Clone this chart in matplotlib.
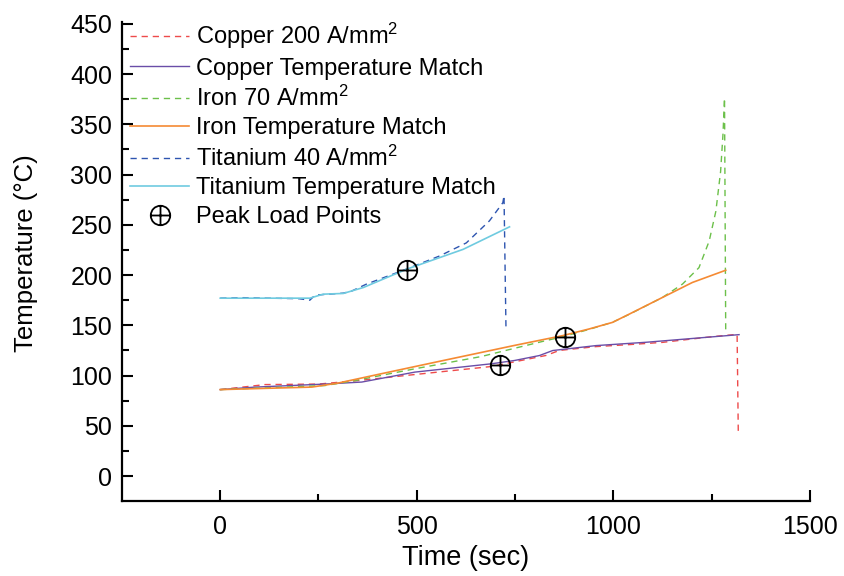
import numpy as np
import matplotlib
matplotlib.use('Agg')
import matplotlib.pyplot as plt
from matplotlib.path import Path

plt.rcParams['font.family'] = 'Liberation Sans'
plt.rcParams['mathtext.fontset'] = 'custom'
plt.rcParams['mathtext.rm'] = 'Liberation Sans'
plt.rcParams['mathtext.it'] = 'Liberation Sans:italic'

# Copper, 200 A/mm2 and its matched temperature curve
t_cu = [0, 114, 250, 351, 495, 690, 829, 863, 956, 1041, 1125, 1252, 1315, 1318]
T_cu = [86, 91, 91.5, 95, 101, 109, 120, 125, 128.8, 130.8, 133, 138.7, 141, 44]
t_cu_m = [0, 89, 266, 360, 495, 690, 749, 812, 846, 956, 1083, 1320]
T_cu_m = [86, 88.5, 91.5, 93.5, 103.4, 111.7, 115, 119.9, 124.9, 129.8, 133.1, 140.7]

# Iron, 70 A/mm2
t_fe = [0, 266, 343, 495, 664, 732, 829, 871, 939, 998, 1041, 1125, 1176, 1218,
        1244, 1261, 1273, 1279, 1283, 1286]
T_fe = [86, 90, 95, 106.7, 118.9, 125.5, 134.8, 138.6, 146, 153, 161, 177.7, 191,
        207.4, 233.9, 263.6, 303, 339.6, 376, 146]
t_fe_m = [0, 233, 300, 410, 580, 749, 871, 939, 998, 1041, 1125, 1201, 1286]
T_fe_m = [86, 88.5, 92.5, 101.8, 116, 130, 139.7, 146.4, 152.9, 161.2, 177.7, 192.6, 204.8]

# Titanium, 40 A/mm2
t_ti = [0, 60, 120, 200, 228, 241, 313, 334, 372, 474, 558, 626, 685, 719, 722, 727]
T_ti = [177, 177.5, 177, 176.5, 175, 180, 182, 184, 191, 206, 219, 232, 254, 272, 279, 147]
t_ti_m = [0, 228, 262, 313, 364, 474, 618, 736]
T_ti_m = [177, 177, 181, 181.7, 187.6, 205.8, 225.6, 248]

# peak load points
t_peak = [474, 711, 878]
T_peak = [205, 110.7, 138.7]

# circle with a cross inside
circ = Path.unit_circle()
cross = Path([(-1, 0), (1, 0), (0, -1), (0, 1)],
             [Path.MOVETO, Path.LINETO, Path.MOVETO, Path.LINETO])
oplus = Path.make_compound_path(circ, cross)

fig = plt.figure(figsize=(8.44, 5.76), dpi=100)
ax = fig.add_axes([0.1445, 0.130, 0.815, 0.832])

dash = (4.5, 3.5)
lw = 1.0
ax.plot(t_cu, T_cu, color='#EE4B4B', lw=lw, dashes=dash, label='Copper 200 A/mm$^2$')
ax.plot(t_cu_m, T_cu_m, color='#6A4EA8', lw=lw, label='Copper Temperature Match')
ax.plot(t_fe, T_fe, color='#6CC04A', lw=lw, dashes=dash, label='Iron 70 A/mm$^2$')
ax.plot(t_fe_m, T_fe_m, color='#F58A33', lw=lw + 0.2, label='Iron Temperature Match')
ax.plot(t_ti, T_ti, color='#2E55B0', lw=lw, dashes=dash, label='Titanium 40 A/mm$^2$')
ax.plot(t_ti_m, T_ti_m, color='#6FCBE0', lw=lw + 0.2, label='Titanium Temperature Match')
ax.plot(t_peak, T_peak, ls='none', marker=oplus, ms=14, mfc='none', mec='black',
        mew=1.3, label='Peak Load Points')

ax.set_xlim(-250, 1500)
ax.set_ylim(-25, 452)
ax.set_xticks([0, 500, 1000, 1500])
ax.set_xticks(np.arange(250, 1500, 500), minor=True)
ax.set_yticks(np.arange(0, 451, 50))
ax.set_yticks(np.arange(25, 450, 50), minor=True)

for s in ['top', 'right']:
    ax.spines[s].set_visible(False)
for s in ['left', 'bottom']:
    ax.spines[s].set_linewidth(1.6)

ax.tick_params(which='both', direction='in', width=1.5, labelsize=18)
ax.tick_params(which='major', length=8)
ax.tick_params(which='minor', length=5)
ax.tick_params(axis='x', pad=10)
ax.tick_params(axis='y', pad=7)

ax.set_xlabel('Time (sec)', fontsize=19.5, labelpad=4)
ax.set_ylabel('Temperature (°C)', fontsize=18.5)
ax.yaxis.set_label_coords(-0.122, 0.518)

ax.legend(loc='upper left', bbox_to_anchor=(0.012, 1.002), frameon=False,
          fontsize=17, handlelength=2.5, handletextpad=0.3, labelspacing=0.27,
          borderaxespad=0, borderpad=0)

fig.savefig('out.png', dpi=100)
